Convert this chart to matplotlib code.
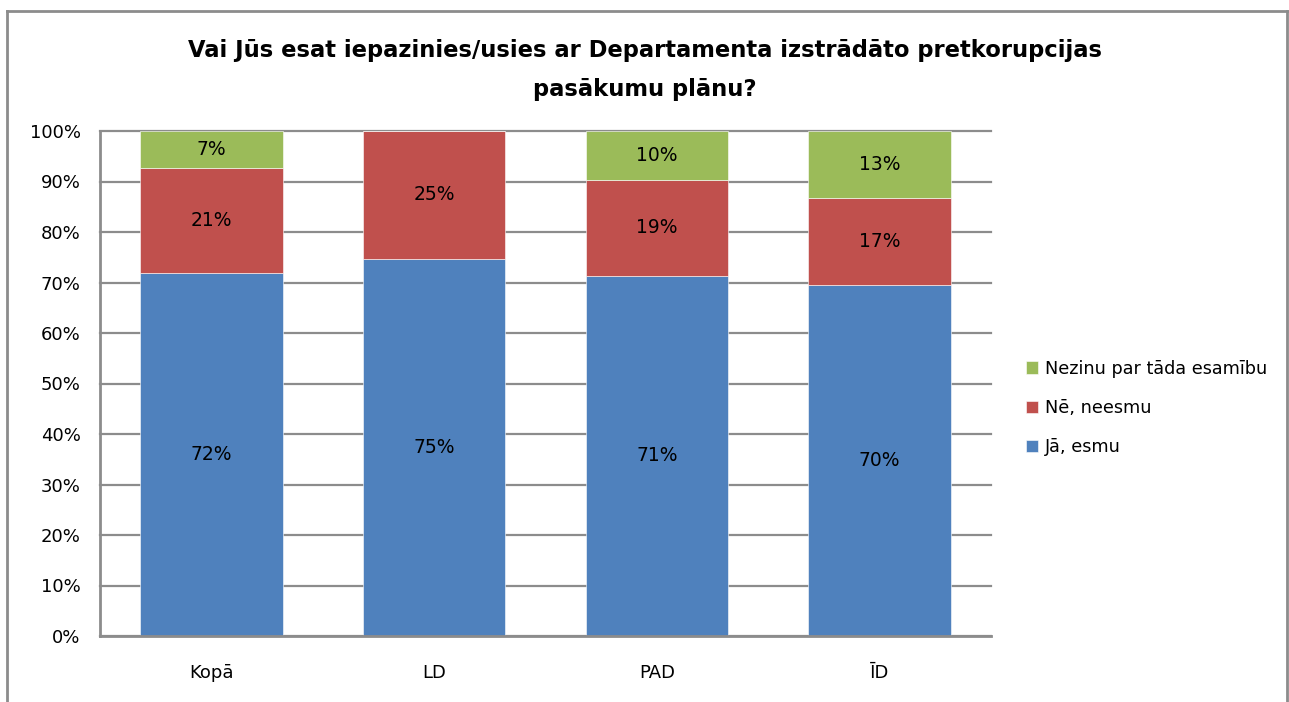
import matplotlib
matplotlib.use('Agg')
from matplotlib import pyplot as plt
from matplotlib.lines import Line2D
import numpy as np

categories = ['Kopā', 'LD', 'PAD', 'ĪD']
ja_esmu = [71.9, 74.7, 71.3, 69.6]
ne_neesmu = [20.8, 25.3, 19.0, 17.1]
nezinu = [7.3, 0.0, 9.7, 13.3]
series_names = ['Jā, esmu', 'Nē, neesmu', 'Nezinu par tāda esamību']
colors = ['#4F81BD', '#C0504D', '#9BBB59']
title = 'Vai Jūs esat iepazinies/usies ar Departamenta izstrādāto pretkorupcijas\npasākumu plānu?'

plt.rcParams['font.family'] = ['DejaVu Sans']

fig = plt.figure(figsize=(12.89, 7.02), dpi=100)
ax = fig.add_axes([100 / 1289, 66 / 702, 891 / 1289, 505 / 702])

x = np.arange(len(categories))
bottom = np.zeros(len(categories))
for vals, name, col in zip([ja_esmu, ne_neesmu, nezinu], series_names, colors):
    vals = np.array(vals)
    ax.bar(x, vals, 0.64, bottom=bottom, color=col, label=name, zorder=3,
           edgecolor='white', linewidth=0.4)
    for xi, b, v in zip(x, bottom, vals):
        if v > 0:
            ax.text(xi, b + v / 2, '%d%%' % round(v), ha='center', va='center',
                    fontsize=13.5, color='black', zorder=4)
    bottom += vals

ax.set_xlim(-0.5, len(categories) - 0.5)
ax.set_ylim(0, 100)
ax.set_yticks(np.arange(0, 101, 10))
ax.set_yticklabels(['%d%%' % v for v in range(0, 101, 10)])
ax.set_xticks(x)
ax.set_xticklabels(categories)
ax.tick_params(axis='y', length=0, pad=14, labelsize=13)
ax.tick_params(axis='x', length=0, pad=20, labelsize=13)
ax.grid(axis='y', color='#8c8c8c', linewidth=1.6, zorder=1)
for gl in ax.get_ygridlines():
    gl.set_clip_on(False)
for s in ['top', 'right']:
    ax.spines[s].set_visible(False)
for s in ['left', 'bottom']:
    ax.spines[s].set_color('#8c8c8c')
    ax.spines[s].set_linewidth(2)
    ax.spines[s].set_zorder(5)

handles, labels = ax.get_legend_handles_labels()
leg = fig.legend(handles[::-1], labels[::-1], loc='center left',
                 bbox_to_anchor=(1010 / 1289, 1 - 408 / 702), frameon=False,
                 fontsize=12.7, handlelength=0.7, handleheight=0.7,
                 handletextpad=0.4, labelspacing=1.2)

fig.text(0.5, 1 - 70 / 702, title, ha='center', va='center', fontsize=16.3,
         fontweight='bold', linespacing=1.85)

# chart area border
for xs, ys in [([7, 1287], [11, 11]), ([7, 7], [11, 702]), ([1287, 1287], [11, 702])]:
    fig.add_artist(Line2D([v / 1289 for v in xs], [1 - v / 702 for v in ys],
                          color='#8c8c8c', linewidth=2, transform=fig.transFigure))

fig.savefig('out.png', dpi=100)
